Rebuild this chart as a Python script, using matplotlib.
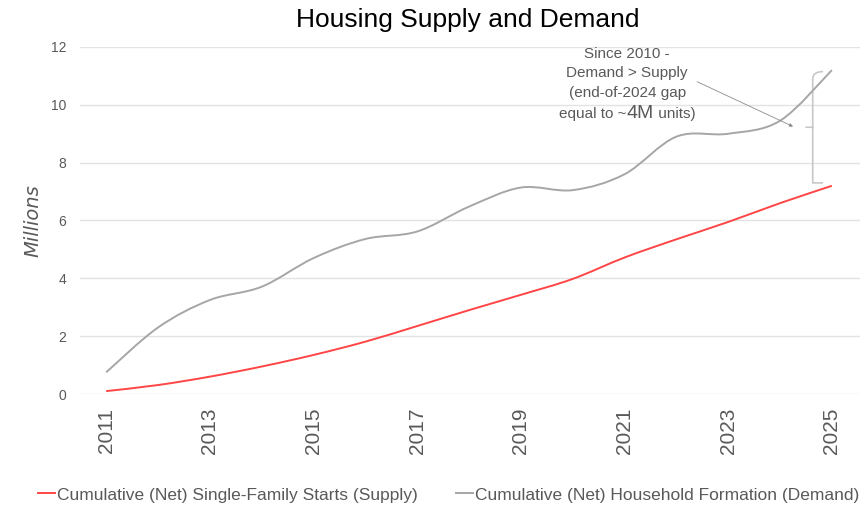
import matplotlib.pyplot as plt
from matplotlib.path import Path
from matplotlib.patches import PathPatch
from matplotlib.lines import Line2D
from matplotlib.offsetbox import TextArea, HPacker, VPacker, AnnotationBbox

years = list(range(2011, 2026))
supply = [0.10, 0.31, 0.60, 0.95, 1.35, 1.81, 2.35, 2.90, 3.43, 3.98, 4.72, 5.35, 5.95, 6.60, 7.20]
demand = [0.75, 2.30, 3.25, 3.71, 4.70, 5.36, 5.62, 6.48, 7.14, 7.05, 7.60, 8.90, 9.00, 9.45, 11.20]

supply_label = "Cumulative (Net) Single-Family Starts (Supply)"
demand_label = "Cumulative (Net) Household Formation (Demand)"

RED = "#FF4545"
GRAY = "#A6A6A6"
TEXT = "#595959"
NARROW = ["Liberation Sans Narrow", "Liberation Sans", "DejaVu Sans"]


def smooth_path(xs, ys):
    # Catmull-Rom style bezier segments, like a spreadsheet's smoothed line
    pts = list(zip(xs, ys))
    verts = [pts[0]]
    codes = [Path.MOVETO]
    n = len(pts)
    for i in range(n - 1):
        p0 = pts[i - 1] if i > 0 else pts[i]
        p1 = pts[i]
        p2 = pts[i + 1]
        p3 = pts[i + 2] if i + 2 < n else pts[i + 1]
        c1 = (p1[0] + (p2[0] - p0[0]) / 6, p1[1] + (p2[1] - p0[1]) / 6)
        c2 = (p2[0] - (p3[0] - p1[0]) / 6, p2[1] - (p3[1] - p1[1]) / 6)
        verts += [c1, c2, p2]
        codes += [Path.CURVE4] * 3
    return Path(verts, codes)


def brace_path(x, y_bot, y_top, w):
    mid = (y_bot + y_top) / 2
    r = 0.25
    verts = [
        (x + w, y_top), (x, y_top), (x, y_top - r), (x, y_top - r),
        (x, mid + r), (x, mid + r), (x, mid), (x - w * 0.7, mid),
        (x, mid), (x, mid - r), (x, mid - r),
        (x, y_bot + r), (x, y_bot + r), (x, y_bot), (x + w, y_bot),
    ]
    codes = [Path.MOVETO, Path.CURVE3, Path.CURVE3, Path.LINETO,
             Path.LINETO, Path.CURVE3, Path.CURVE3, Path.LINETO,
             Path.MOVETO, Path.CURVE3, Path.CURVE3,
             Path.LINETO, Path.CURVE3, Path.CURVE3, Path.LINETO]
    return Path(verts, codes)


fig = plt.figure(figsize=(8.63, 5.08), dpi=100)
ax = fig.add_axes([0.093, 0.2244, 0.904, 0.6831])

ax.add_patch(PathPatch(smooth_path(years, supply), fill=False, edgecolor=RED, lw=1.4, zorder=3))
ax.add_patch(PathPatch(smooth_path(years, demand), fill=False, edgecolor=GRAY, lw=1.4, zorder=3))

ax.set_xlim(2010.5, 2025.55)
ax.set_ylim(0, 12)
ax.set_yticks(range(0, 13, 2))
ax.set_xticks(years[::2])
ax.set_xticklabels([str(y) for y in years[::2]], rotation=90, fontsize=15,
                   color=TEXT, family=NARROW)
ax.tick_params(axis="y", labelsize=10, colors=TEXT, length=0, pad=10)
ax.tick_params(axis="x", length=0, pad=10)
for lbl in ax.get_yticklabels():
    lbl.set_family(NARROW)
ax.grid(axis="y", color="#E3E3E3", lw=1)
ax.set_axisbelow(True)
for s in ax.spines.values():
    s.set_visible(False)

ax.set_ylabel("Millions", fontsize=14, style="italic", color=TEXT, labelpad=6)
fig.suptitle("Housing Supply and Demand", fontsize=19, family="Liberation Sans",
             x=0.542, y=0.985, va="top")

# brace spanning the gap at the end of the series
ax.add_patch(PathPatch(brace_path(2024.63, supply[-1] + 0.1, demand[-1] - 0.05, 0.2),
                       fill=False, edgecolor="#C8C8C8", lw=1.2, zorder=2))

fs = 11
lines = [TextArea(t, textprops=dict(color=TEXT, fontsize=fs, family=NARROW))
         for t in ["Since 2010 -", "Demand > Supply", "(end-of-2024 gap"]]
last = HPacker(children=[
    TextArea("equal to ~", textprops=dict(color=TEXT, fontsize=fs, family=NARROW)),
    TextArea("4M", textprops=dict(color=TEXT, fontsize=14, family=NARROW)),
    TextArea(" units)", textprops=dict(color=TEXT, fontsize=fs, family=NARROW)),
], align="baseline", pad=0, sep=0)
box = VPacker(children=lines + [last], align="center", pad=0, sep=4)
ax.add_artist(AnnotationBbox(box, (2021.05, 10.7), frameon=False, box_alignment=(0.5, 0.5)))

ax.annotate("", xy=(2024.25, 9.25), xytext=(2022.4, 10.8),
            arrowprops=dict(arrowstyle="-|>", color="#8C8C8C", lw=0.6,
                            mutation_scale=5, shrinkA=0, shrinkB=0))

handles = [Line2D([], [], color=RED, lw=1.4), Line2D([], [], color=GRAY, lw=1.4)]
fig.legend(handles, [supply_label, demand_label], loc="lower center",
           bbox_to_anchor=(0.52, -0.02), ncol=2, frameon=False, handlelength=1.0,
           handletextpad=0.1, columnspacing=2.2,
           prop=dict(family=NARROW, size=12.5), labelcolor=TEXT)

fig.savefig("out.png", dpi=100)
